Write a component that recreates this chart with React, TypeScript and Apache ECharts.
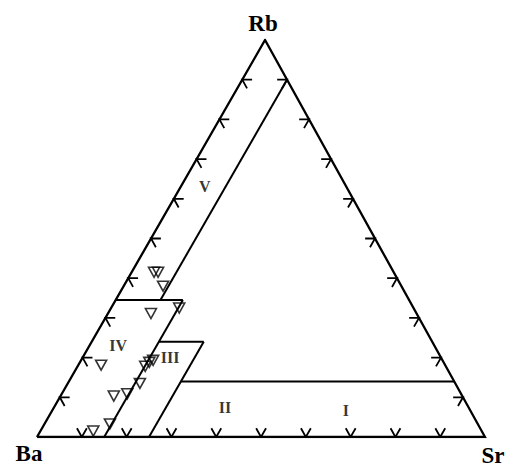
import React, { useEffect, useRef } from "react";
import * as echarts from "echarts";

// Ternary diagram Ba – Sr – Rb (percent)
const vertexNames = ["Ba", "Sr", "Rb"];
const tickValues = [10, 20, 30, 40, 50, 60, 70, 80, 90];
const TICK_LEN = 2.2; // percent units

// samples (inverted triangles)
const sampleBa = [53.5, 52.6, 53.2, 59.3, 52.3, 76.8, 67.1, 65.7, 64.6, 70.4, 74.5, 77.8, 82.1, 86.7];
const sampleSr = [5.0, 5.9, 8.8, 9.6, 15.2, 5.1, 15.1, 15.5, 16.1, 16.1, 14.6, 11.9, 14.6, 11.8];
const sampleRb = [41.5, 41.5, 38.0, 31.1, 32.5, 18.1, 17.8, 18.8, 19.3, 13.5, 10.9, 10.3, 3.3, 1.5];

// region labels
const regionNames = ["I", "II", "III", "IV", "V"];
const regionBa = [27.8, 54.4, 60.5, 70.6, 31.6];
const regionSr = [65.6, 38.2, 19.6, 6.4, 5.4];
const regionRb = [6.6, 7.4, 19.9, 23.0, 63.0];

// field boundaries, each a list of [Ba, Sr, Rb]
const boundaryLines: number[][][] = [
  [[0, 10, 90], [55.5, 10, 34.5]],
  [[65.5, 0, 34.5], [50.5, 15, 34.5]],
  [[85, 15, 0], [50.5, 15, 34.5]],
  [[61, 15, 24], [51, 25, 24]],
  [[75, 25, 0], [51, 25, 24]],
  [[61, 25, 14], [0, 86, 14]],
];

const APEX_X = 0.509;
function toXY(ba: number, sr: number, rb: number): [number, number] {
  const t = ba + sr + rb;
  const s = sr / t;
  const r = rb / t;
  return [s + r * APEX_X, r];
}

export default function App() {
  const ref = useRef<HTMLDivElement>(null);
  useEffect(() => {
    if (!ref.current) return;
    const chart = echarts.init(ref.current, undefined, { renderer: "svg" });

    const outline = {
      coords: [toXY(100, 0, 0), toXY(0, 100, 0), toXY(0, 0, 100), toXY(100, 0, 0)],
    };
    const bounds = boundaryLines.map((pts) => ({ coords: pts.map((p) => toXY(p[0], p[1], p[2])) }));
    const L = TICK_LEN;
    const ticks: any[] = [];
    tickValues.forEach((t) => {
      // bottom edge (Ba–Sr)
      ticks.push({
        coords: [toXY(100 - t, t - L, L), toXY(100 - t, t, 0), toXY(100 - t - L, t, L)],
      });
      // left edge (Ba–Rb)
      ticks.push({
        coords: [toXY(100 - t - L, L, t), toXY(100 - t, 0, t), toXY(100 - t, L, t - L)],
      });
      // right edge (Sr–Rb)
      ticks.push({
        coords: [toXY(L, 100 - t - L, t), toXY(0, 100 - t, t), toXY(L, 100 - t, t - L)],
      });
    });

    const samples = sampleBa.map((b, i) => toXY(b, sampleSr[i], sampleRb[i]));
    const regions = regionNames.map((n, i) => ({
      name: n,
      value: toXY(regionBa[i], regionSr[i], regionRb[i]),
    }));

    const font = "'Liberation Serif', 'Times New Roman', serif";
    const vtxStyle = (text: string) => ({
      text,
      font: `bold 23px ${font}`,
      fill: "#000",
      textAlign: "center",
      textVerticalAlign: "middle",
    });

    chart.setOption({
      animation: false,
      backgroundColor: "#ffffff",
      grid: { left: 37, top: 40, width: 448, height: 397, show: false },
      xAxis: { type: "value", min: 0, max: 1, show: false },
      yAxis: { type: "value", min: 0, max: 1, show: false },
      series: [
        {
          type: "lines",
          coordinateSystem: "cartesian2d",
          polyline: true,
          silent: true,
          lineStyle: { color: "#000", width: 2.3, opacity: 1, join: "miter" },
          data: [outline],
        },
        {
          type: "lines",
          coordinateSystem: "cartesian2d",
          polyline: true,
          silent: true,
          lineStyle: { color: "#000", width: 2, opacity: 1 },
          data: bounds,
        },
        {
          type: "lines",
          coordinateSystem: "cartesian2d",
          polyline: true,
          silent: true,
          lineStyle: { color: "#000", width: 1.8, opacity: 1 },
          data: ticks,
        },
        {
          type: "scatter",
          symbol: "triangle",
          symbolRotate: 180,
          symbolSize: [11, 10],
          itemStyle: { color: "rgba(0,0,0,0)", borderColor: "#000", borderWidth: 1.6 },
          data: samples,
          z: 5,
        },
        {
          type: "scatter",
          symbolSize: 0,
          silent: true,
          label: {
            show: true,
            position: "inside",
            formatter: "{b}",
            color: "#000",
            fontFamily: font,
            fontWeight: "bold",
            fontSize: 16,
          },
          data: regions,
        },
      ],
      graphic: [
        { type: "text", x: 263, y: 23, style: vtxStyle(vertexNames[2]) },
        { type: "text", x: 29, y: 453, style: vtxStyle(vertexNames[0]) },
        { type: "text", x: 493, y: 455, style: vtxStyle(vertexNames[1]) },
      ],
    });
    return () => chart.dispose();
  }, []);
  return (
    <div
      ref={ref}
      style={{ position: "absolute", left: 0, top: 0, width: 525, height: 466 }}
    />
  );
}
